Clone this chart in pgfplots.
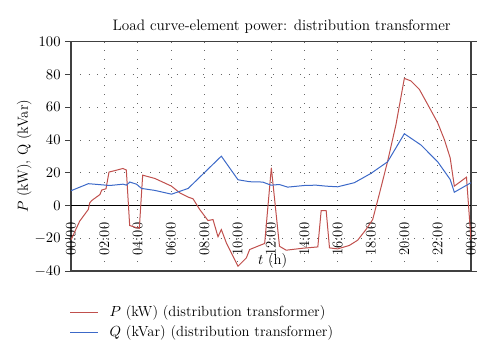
\documentclass[border=0pt]{standalone}
\usepackage{pgfplots}
\pgfplotsset{compat=1.18}
\definecolor{pred}{RGB}{192,80,77}
\definecolor{qblue}{RGB}{60,105,200}
\pgfplotsset{legend image code/.code={\draw[#1] (0pt,0pt) -- (21pt,0pt); \path (27pt,0pt);}}
\begin{document}
\begin{tikzpicture}
\path[use as bounding box] (-53.25pt,-66.75pt) rectangle (321.75pt,203.25pt);
\begin{axis}[
  width=300pt, height=172pt, scale only axis,
  xmin=0, xmax=24, ymin=-40, ymax=100,
  axis line style={draw=black!75, line width=1pt},
  xtick={0,2,...,24},
  xticklabels={00:00,02:00,04:00,06:00,08:00,10:00,12:00,14:00,16:00,18:00,20:00,22:00,00:00},
  xticklabel style={rotate=90, anchor=east},
  xticklabel shift=-44pt,
  ytick={-40,-20,...,100},
  tick align=outside,
  tick style={black!75, line width=0.6pt},
  xtick style={draw=none},
  grid=major,
  major grid style={black!60, line width=0.6pt, dash pattern=on 0.6pt off 6pt},
  extra y ticks={0},
  extra y tick labels={},
  extra y tick style={grid=major, major grid style={black, solid, line width=1pt}, tick style={draw=none}},
  tick label style={font=\fontsize{11}{13}\selectfont},
  ylabel={$P$ (kW), Q (kVar)},
  ylabel style={font=\fontsize{11}{13}\selectfont, at={(axis description cs:0,0.5)}, anchor=south, yshift=26pt},
  title={Load curve-element power: distribution transformer},
  title style={font=\fontsize{11.4}{13}\selectfont, at={(axis description cs:0.5,1)}, anchor=south, xshift=8pt, yshift=-3pt},
  legend style={draw=none, fill=none, at={(axis description cs:0,0)}, anchor=north west, xshift=-4pt, yshift=-22pt, font=\fontsize{11}{13}\selectfont, row sep=1pt},
  legend cell align=left,
]
\addplot[pred, line width=0.75pt] coordinates {
(0,-21) (0.52,-9.6) (1.04,-2.4) (1.12,1.5) (1.24,3.0) (1.74,6.7) (1.84,9.4) (2.1,10.2) (2.28,20.4) (2.6,21.2) (3.12,22.6) (3.32,21.6) (3.52,-12.2) (3.85,-13.3) (4.1,-13.9) (4.3,18.5)
(5.03,16.5) (6.03,11.8) (6.53,7.7) (7.03,5.1) (7.32,4.1) (7.72,-2.4) (8.22,-9.2) (8.52,-8.6) (8.82,-19.1) (9.02,-14.7) (9.32,-22.8) (10.02,-37.1) (10.52,-32) (10.72,-26.9) (11.32,-24.4) (11.62,-23.2)
(12.02,23.0) (12.51,-24.9) (12.91,-27.3) (13.91,-26.1) (14.81,-25.3) (15.01,-3.1) (15.31,-3.1) (15.51,-25.9) (16.0,-26.5) (16.7,-24.4) (17.2,-21.2) (17.7,-14.7) (18.1,-8.6) (18.5,7) (19.0,27.1) (19.5,49.5)
(20.0,77.6) (20.4,76) (20.9,70.9) (21.4,61.7) (22.0,50.5) (22.4,40.3) (22.75,29.1) (23.0,11.8) (23.73,17.3) (24.0,-21)
};
\addlegendentry{$P$ (kW) (distribution transformer)}
\addplot[qblue, line width=0.75pt] coordinates {
(0,9.0) (1.04,13.3) (2.33,12.2) (3.13,13.0) (3.33,12.4) (3.53,14.3) (3.93,13) (4.23,10.4) (5.03,9.2) (6.03,6.9) (7.03,10.4) (8.1,21) (9.02,30.1) (10.02,15.7) (10.72,14.5)
(11.5,14.3) (12.0,12.4) (12.5,12.8) (13.0,11.2) (14.0,12.2) (14.7,12.4) (15.3,11.8) (16.0,11.4) (17.0,13.9) (18.0,19.6) (19.0,26.7) (20.0,43.8) (21.0,36.9) (22.0,26.7) (22.75,15.9) (23.0,8.1) (24.0,13.9)
};
\addlegendentry{$Q$ (kVar) (distribution transformer)}
\node[font=\fontsize{11}{13}\selectfont] at (axis cs:12.1,-34) {$t$ (h)};
\end{axis}
\end{tikzpicture}
\end{document}
